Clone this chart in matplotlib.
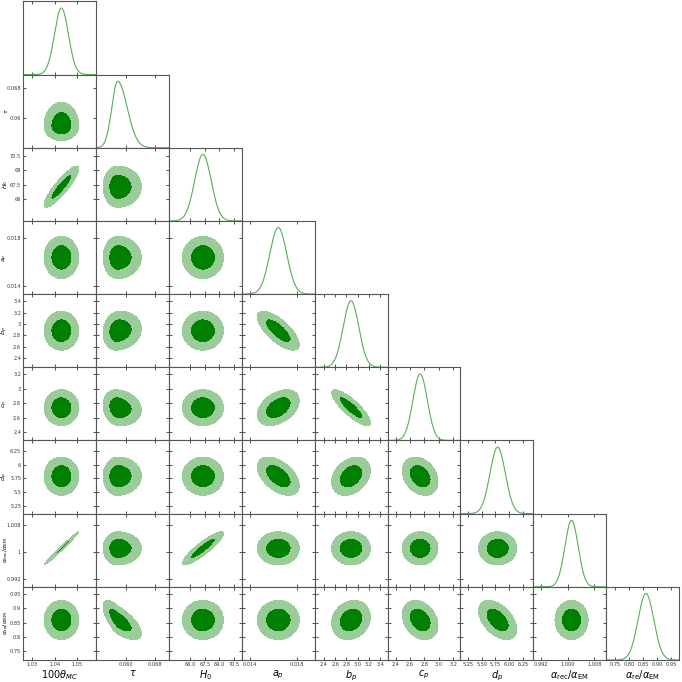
import numpy as np
import matplotlib
matplotlib.use('Agg')
import matplotlib.pyplot as plt

# parameters of the triangle plot
names = [r'$100\theta_{MC}$', r'$\tau$', r'$H_0$', r'$a_p$', r'$b_p$', r'$c_p$', r'$d_p$',
         r'$\alpha_{\rm rec}/\alpha_{\rm EM}$', r'$\alpha_{\rm re}/\alpha_{\rm EM}$']
means = [1.043, 0.0577, 67.3, 0.0164, 2.88, 2.74, 5.79, 1.0011, 0.859]
sig_lo = [0.0031, 0.0016, 0.85, 0.00071, 0.138, 0.100, 0.140, 0.0020, 0.028]
sig_hi = [0.0031, 0.0026, 0.85, 0.00071, 0.138, 0.100, 0.140, 0.0020, 0.028]
lims = [(1.026, 1.0584), (0.0518, 0.0717), (63.8, 71.3), (0.01333, 0.01946),
        (2.236, 3.527), (2.286, 3.30), (5.11, 6.44), (0.9896, 1.0115), (0.717, 0.977)]
ticks = [[1.03, 1.04, 1.05], [0.060, 0.068], [66.0, 67.5, 69.0, 70.5], [0.014, 0.018],
         [2.4, 2.6, 2.8, 3.0, 3.2, 3.4], [2.4, 2.6, 2.8, 3.0, 3.2],
         [5.25, 5.50, 5.75, 6.00, 6.25], [0.992, 1.000, 1.008], [0.75, 0.80, 0.85, 0.90, 0.95]]
xfmt = ['%.2f', '%.3f', '%.1f', '%.3f', '%.1f', '%.1f', '%.2f', '%.3f', '%.2f']

# correlation coefficients (i, j, rho)
corr_pairs = [
    (0, 2, 0.88), (0, 7, 0.99), (2, 7, 0.89),
    (1, 4, 0.10), (1, 5, -0.15), (1, 8, -0.72),
    (3, 4, -0.72), (3, 5, 0.40), (3, 6, -0.50),
    (4, 5, -0.85), (4, 6, 0.30), (4, 8, 0.15),
    (5, 6, -0.30), (5, 8, -0.30), (6, 8, -0.50),
]

n = len(names)
C = np.eye(n)
for i, j, r in corr_pairs:
    C[i, j] = C[j, i] = r
w, v = np.linalg.eigh(C)
w = np.clip(w, 1e-3, None)
C = v @ np.diag(w) @ v.T
d = np.sqrt(np.diag(C))
C = C / np.outer(d, d)

dark = '#008000'
light = '#99cc99'
line = '#55b055'


def zscore(x, k):
    return np.where(x < means[k], (x - means[k]) / sig_lo[k], (x - means[k]) / sig_hi[k])


fig, axes = plt.subplots(n, n, figsize=(6.82, 6.82), dpi=100)
fig.subplots_adjust(left=0.034, right=0.9956, bottom=0.0323, top=0.998, wspace=0, hspace=0)

for row in range(n):
    for col in range(n):
        ax = axes[row, col]
        if col > row:
            ax.axis('off')
            continue
        x = np.linspace(lims[col][0], lims[col][1], 300)
        if row == col:
            z = zscore(x, col)
            ax.plot(x, np.exp(-0.5 * z ** 2), color=line, lw=0.8)
            ax.set_ylim(0, 1.1)
            ax.set_yticks([])
        else:
            y = np.linspace(lims[row][0], lims[row][1], 300)
            X, Y = np.meshgrid(x, y)
            zx = zscore(X, col)
            zy = zscore(Y, row)
            r = C[row, col]
            chi2 = (zx ** 2 - 2 * r * zx * zy + zy ** 2) / (1 - r ** 2)
            ax.contourf(X, Y, chi2, levels=[0, 2.30, 6.18], colors=[dark, light])
            ax.set_ylim(lims[row])
            ax.set_yticks(ticks[row])
            if col == 0:
                ax.set_yticklabels(['%g' % t for t in ticks[row]])
                ax.set_ylabel(names[row], fontsize=4.6, labelpad=0)
                ax.yaxis.set_label_coords(-0.175, 0.5)
            else:
                ax.set_yticklabels([])
        ax.set_xlim(lims[col])
        ax.set_xticks(ticks[col])
        if row == n - 1:
            ax.set_xticklabels([xfmt[col] % t for t in ticks[col]])
            ax.set_xlabel(names[col], fontsize=7, labelpad=1)
        else:
            ax.set_xticklabels([])
        ax.tick_params(direction='in', top=True, right=(row != col), length=2.5,
                       width=0.6, labelsize=3.6, pad=1.5, colors='#333333')
        for s in ax.spines.values():
            s.set_color('#555555')
            s.set_linewidth(0.8)

fig.savefig('out.png', dpi=100)
